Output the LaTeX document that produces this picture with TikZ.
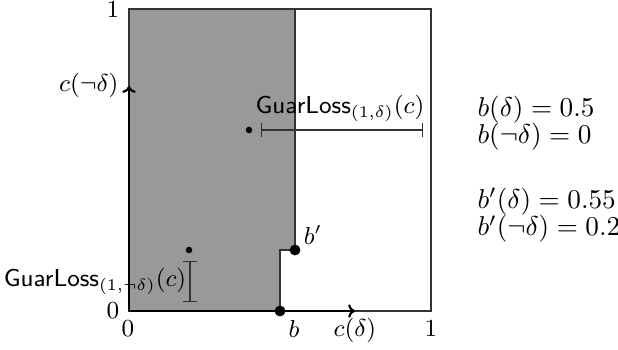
\documentclass[tikz,border=0pt]{standalone}
\usetikzlibrary{arrows.meta}
\begin{document}
\begin{tikzpicture}[x=0.3676pt,y=-0.3676pt,
  edge/.style={draw=black!80,line width=0.5pt},
  axis/.style={line width=0.8pt,-{To[length=2.5pt,width=5pt]}},
  bigdot/.style={circle,fill=black,inner sep=0pt,minimum size=4pt},
  smalldot/.style={circle,fill=black,inner sep=0pt,minimum size=2.4pt},
  interval/.style={draw=black!80,line width=0.5pt,{Bar[width=5pt]}-{Bar[width=5pt]}},
  lbl/.style={inner sep=0pt,font=\small},
  eq/.style={inner sep=0pt,anchor=west,align=left}]
\useasboundingbox (0,0) rectangle (618,350);
% shaded region
\fill[black!40] (129,311) -- (280,311) -- (280,250) -- (295,250) -- (295,9) -- (129,9) -- cycle;
\draw[edge] (129,9) rectangle (431,311);
\draw[edge] (280,311) -- (280,250) -- (295,250) -- (295,9);
% axes
\coordinate (o) at (129,311);
\coordinate (xe) at (355,311);
\coordinate (ye) at (129,86);
\draw[axis] (o) -- (xe);
\draw[axis] (o) -- (ye);
% points
\node[bigdot] (b) at (280,311) {};
\node[bigdot] (bp) at (295,250) {};
\node[smalldot] (c1) at (249,130) {};
\node[smalldot] (c2) at (189,250) {};
% intervals
\coordinate (i1a) at (261,130);
\coordinate (i1b) at (423,130);
\coordinate (i2a) at (190,261);
\coordinate (i2b) at (190,302);
\draw[interval] (i1a) -- (i1b);
\draw[interval] (i2a) -- (i2b);
% labels
\node[lbl] (l1top) at (113,10) {$1$};
\node[lbl] (l0left) at (113,311) {$0$};
\node[lbl] (l0bot) at (128,329) {$0$};
\node[lbl] (l1bot) at (431,329) {$1$};
\node[lbl] (lb) at (294,329) {$b$};
\node[lbl] (lcd) at (355,330) {$c(\delta)$};
\node[lbl,anchor=east] (lcnd) at (119,85) {$c(\neg\delta)$};
\node[lbl] (lbp) at (313,235) {$b'$};
\node[lbl] (g1) at (340,108) {$\textsf{GuarLoss}_{(1,\delta)}(c)$};
\node[lbl] (g2) at (95,281) {$\textsf{GuarLoss}_{(1,\neg\delta)}(c)$};
\node[eq] (rb) at (477,123.5) {$b(\delta)=0.5$\\[-2pt]$b(\neg\delta)=0$};
\node[eq] (rbp) at (477,215.5) {$b'(\delta)=0.55$\\[-2pt]$b'(\neg\delta)=0.2$};
\end{tikzpicture}
\end{document}
